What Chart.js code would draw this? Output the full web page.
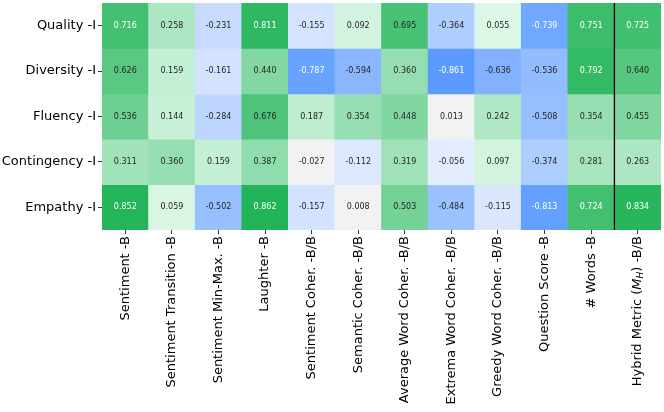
<!DOCTYPE html>
<html>
<head>
<meta charset="utf-8">
<script src="https://cdn.jsdelivr.net/npm/chart.js@4.4.0/dist/chart.umd.min.js"></script>
<style>
  body { margin: 0; background: #fff; }
</style>
</head>
<body>
<canvas id="heat" width="664" height="412"></canvas>
<script>
var rows = ['Quality -I', 'Diversity -I', 'Fluency -I', 'Contingency -I', 'Empathy -I'];
var cols = ['Sentiment -B', 'Sentiment Transition -B', 'Sentiment Min-Max. -B', 'Laughter -B',
            'Sentiment Coher. -B/B', 'Semantic Coher. -B/B', 'Average Word Coher. -B/B',
            'Extrema Word Coher. -B/B', 'Greedy Word Coher. -B/B', 'Question Score -B',
            '# Words -B', 'Hybrid Metric (M_H) -B/B'];

var quality     = [0.716, 0.258, -0.231, 0.811, -0.155, 0.092, 0.695, -0.364, 0.055, -0.739, 0.751, 0.725];
var diversity   = [0.626, 0.159, -0.161, 0.440, -0.787, -0.594, 0.360, -0.861, -0.636, -0.536, 0.792, 0.640];
var fluency     = [0.536, 0.144, -0.284, 0.676, 0.187, 0.354, 0.448, 0.013, 0.242, -0.508, 0.354, 0.455];
var contingency = [0.311, 0.360, 0.159, 0.387, -0.027, -0.112, 0.319, -0.056, 0.097, -0.374, 0.281, 0.263];
var empathy     = [0.852, 0.059, -0.502, 0.862, -0.157, 0.008, 0.503, -0.484, -0.115, -0.813, 0.724, 0.834];

var values = [quality, diversity, fluency, contingency, empathy];

var FONT = "'DejaVu Sans', sans-serif";

function lerp(a, b, t) {
  return Math.round(a + (b - a) * t);
}

// grey in the middle, blue for negative, green for positive
function cellColor(v) {
  var t = Math.min(1, Math.abs(v) / 0.862);
  if (Math.abs(v) < 0.04) return 'rgb(242,242,242)';
  var from, to;
  if (v < 0) { from = [238, 243, 255]; to = [91, 155, 255]; }
  else { from = [232, 252, 240]; to = [34, 180, 88]; }
  return 'rgb(' + lerp(from[0], to[0], t) + ',' + lerp(from[1], to[1], t) + ',' + lerp(from[2], to[2], t) + ')';
}

var datasets = [];
for (var i = 0; i < rows.length; i++) {
  datasets.push({
    label: rows[i],
    data: cols.map(function (c, j) { return [i, i + 1]; }),
    backgroundColor: values[i].map(cellColor),
    borderWidth: 0,
    grouped: false,
    barPercentage: 1,
    categoryPercentage: 1
  });
}

var cellText = {
  id: 'cellText',
  afterDatasetsDraw: function (chart) {
    var ctx = chart.ctx;
    var area = chart.chartArea;
    var x = chart.scales.x;
    ctx.save();
    ctx.font = '8px ' + FONT;
    ctx.textAlign = 'center';
    ctx.textBaseline = 'middle';
    chart.data.datasets.forEach(function (ds, i) {
      chart.getDatasetMeta(i).data.forEach(function (bar, j) {
        var v = values[i][j];
        ctx.fillStyle = Math.abs(v) >= 0.7 ? '#ffffff' : '#262626';
        ctx.fillText(v.toFixed(3), bar.x, (bar.y + bar.base) / 2);
      });
    });

    // separator before the hybrid metric column
    var sep = (x.getPixelForValue(10) + x.getPixelForValue(11)) / 2;
    ctx.strokeStyle = '#000';
    ctx.lineWidth = 1.3;
    ctx.beginPath();
    ctx.moveTo(sep, area.top);
    ctx.lineTo(sep, area.bottom);
    ctx.stroke();

    // hybrid label, with italic M and subscript H
    var px = x.getPixelForTick(11);
    var py = area.bottom + 6;
    var parts = [
      { t: 'Hybrid Metric (', f: '13px ' + FONT, dy: 0 },
      { t: 'M', f: 'italic 13px ' + FONT, dy: 0 },
      { t: 'H', f: 'italic 9px ' + FONT, dy: 3 },
      { t: ') -B/B', f: '13px ' + FONT, dy: 0 }
    ];
    var total = 0;
    parts.forEach(function (p) { ctx.font = p.f; p.w = ctx.measureText(p.t).width; total += p.w; });
    ctx.translate(px, py);
    ctx.rotate(-Math.PI / 2);
    ctx.fillStyle = '#000';
    ctx.textAlign = 'left';
    ctx.textBaseline = 'middle';
    var cx = -total;
    parts.forEach(function (p) {
      ctx.font = p.f;
      ctx.fillText(p.t, cx, p.dy);
      cx += p.w;
    });
    ctx.restore();
  }
};

new Chart(document.getElementById('heat'), {
  type: 'bar',
  data: {
    labels: cols,
    datasets: datasets
  },
  options: {
    responsive: false,
    animation: false,
    layout: { padding: { top: 3, right: 3, left: 0, bottom: 0 } },
    plugins: {
      legend: { display: false },
      tooltip: { enabled: false }
    },
    scales: {
      x: {
        type: 'category',
        offset: true,
        grid: { offset: false, drawOnChartArea: false, tickLength: 4, color: '#333', lineWidth: 1 },
        border: { display: false },
        ticks: {
          autoSkip: false,
          minRotation: 90,
          maxRotation: 90,
          padding: 2,
          color: '#000',
          font: { family: FONT, size: 13 },
          callback: function (v, idx) { return idx === 11 ? '' : cols[idx]; }
        },
        afterFit: function (s) { s.height = 182; s.paddingLeft = 0; s.paddingRight = 0; }
      },
      y: {
        type: 'linear',
        min: 0,
        max: 5,
        reverse: true,
        afterBuildTicks: function (s) {
          s.ticks = rows.map(function (r, i) { return { value: i + 0.5 }; });
        },
        grid: { drawOnChartArea: false, tickLength: 4, color: '#333', lineWidth: 1 },
        border: { display: false },
        ticks: {
          padding: 2,
          color: '#000',
          font: { family: FONT, size: 13 },
          callback: function (v, idx) { return rows[idx]; }
        },
        afterFit: function (s) { s.width = 102; s.paddingTop = 0; s.paddingBottom = 0; }
      }
    }
  },
  plugins: [cellText]
});
</script>
</body>
</html>
